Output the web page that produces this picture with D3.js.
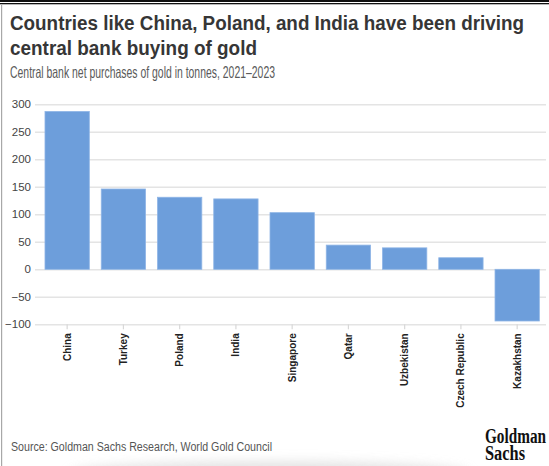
<!DOCTYPE html>
<html>
<head>
<meta charset="utf-8">
<script src="https://cdn.jsdelivr.net/npm/d3@7"></script>
<style>
  html, body { margin: 0; padding: 0; background: #fff; }
  svg { display: block; }
</style>
</head>
<body>
<svg id="chart" width="549" height="466"></svg>
<script>
// Central bank net gold purchases, 2021-2023 (tonnes)
const countries = ["China", "Turkey", "Poland", "India", "Singapore", "Qatar", "Uzbekistan", "Czech Republic", "Kazakhstan"];
const purchases = [287, 146, 131, 128, 103, 44, 39, 21, -94];
const yTicks = [-100, -50, 0, 50, 100, 150, 200, 250, 300];

const titleLines = ["Countries like China, Poland, and India have been driving", "central bank buying of gold"];
const subtitle = "Central bank net purchases of gold in tonnes, 2021\u20132023";
const source = "Source: Goldman Sachs Research, World Gold Council";
const logoLines = ["Goldman", "Sachs"];

const W = 549, H = 466;
const svg = d3.select("#chart");

const defs = svg.append("defs");
defs.append("filter").attr("id", "soft")
  .attr("x", "-20%").attr("y", "-100%").attr("width", "140%").attr("height", "300%")
  .append("feGaussianBlur").attr("stdDeviation", 6);

svg.append("rect").attr("width", W).attr("height", H).attr("fill", "#fff");

// faint page shadow along the bottom edge
svg.append("ellipse")
  .attr("cx", 270).attr("cy", 474).attr("rx", 200).attr("ry", 12)
  .attr("fill", "#d9d9d9").attr("opacity", 0.8)
  .attr("filter", "url(#soft)");

// frame: double rule across the top, thin grey rule down the left
svg.append("rect").attr("x", 0).attr("y", 0).attr("width", W).attr("height", 2).attr("fill", "#111");
svg.append("rect").attr("x", 0).attr("y", 3).attr("width", W).attr("height", 1.3).attr("fill", "#111");
svg.append("rect").attr("x", 1).attr("y", 5).attr("width", 1.2).attr("height", H - 5).attr("fill", "#a8a8a8");

// horizontally condensed text helper
function fitText(sel, width) {
  sel.attr("textLength", width).attr("lengthAdjust", "spacingAndGlyphs");
  return sel;
}

const sans = "'Liberation Sans', Arial, sans-serif";

// title & subtitle
const titleWidths = [514, 247];
titleLines.forEach((t, i) => {
  fitText(svg.append("text")
    .attr("x", 10).attr("y", 30 + i * 25)
    .attr("font-family", sans).attr("font-size", 19.5).attr("font-weight", 700)
    .attr("fill", "#363636")
    .text(t), titleWidths[i]);
});
fitText(svg.append("text")
  .attr("x", 10).attr("y", 78)
  .attr("font-family", sans).attr("font-size", 16.5)
  .attr("fill", "#5a5a5a")
  .text(subtitle), 265);

// scales
const x = d3.scaleBand()
  .domain(countries)
  .range([35, 546])
  .paddingInner(0.212)
  .paddingOuter(0.148)
  .align(0.6);

const y = d3.scaleLinear()
  .domain([-100, 300])
  .range([324.3, 104.3]);

// gridlines + y labels
const yAxis = d3.axisLeft(y)
  .tickValues(yTicks)
  .tickSize(-(546 - 35))
  .tickPadding(4)
  .tickFormat(d3.format("d"));

const gy = svg.append("g")
  .attr("transform", "translate(35,0)")
  .call(yAxis);
gy.select(".domain").remove();
gy.selectAll(".tick line").attr("stroke", "#e4e4e4").attr("stroke-width", 1.4);
gy.selectAll(".tick text")
  .attr("font-family", sans).attr("font-size", 11.5).attr("fill", "#444");

// bars
svg.append("g").selectAll("rect")
  .data(countries.map((c, i) => ({ c, v: purchases[i] })))
  .join("rect")
  .attr("x", d => x(d.c))
  .attr("width", x.bandwidth())
  .attr("y", d => y(Math.max(0, d.v)))
  .attr("height", d => Math.abs(y(d.v) - y(0)))
  .attr("fill", "#6d9edb")
  .attr("stroke", "#8fb5e6")
  .attr("stroke-width", 0.8);

// category axis along the bottom gridline
const xAxis = d3.axisBottom(x).tickSize(5).tickPadding(4);
const gx = svg.append("g")
  .attr("transform", `translate(0,${y(-100)})`)
  .call(xAxis);
gx.select(".domain").remove();
gx.selectAll(".tick line").attr("stroke", "#d8d8d8").attr("stroke-width", 1.2);
gx.selectAll(".tick text")
  .attr("transform", "rotate(-90)")
  .attr("x", -9).attr("y", 0).attr("dy", "0.35em")
  .attr("text-anchor", "end")
  .attr("font-family", sans).attr("font-size", 10).attr("font-weight", 700)
  .attr("fill", "#222");

// footer
fitText(svg.append("text")
  .attr("x", 11).attr("y", 451)
  .attr("font-family", sans).attr("font-size", 12)
  .attr("fill", "#555")
  .text(source), 261);

// wordmark: tall, narrow serif, stacked in one text block
const logo = svg.append("text")
  .attr("transform", "translate(485,0) scale(1,1.4)")
  .attr("font-family", "'Liberation Serif', 'Times New Roman', serif")
  .attr("font-size", 14.5).attr("font-weight", 700)
  .attr("fill", "#111");
const logoWidths = [61, 40];
logoLines.forEach((t, i) => {
  fitText(logo.append("tspan")
    .attr("x", 0).attr("y", (443 + i * 17) / 1.4)
    .text(t), logoWidths[i]);
});
</script>
</body>
</html>
